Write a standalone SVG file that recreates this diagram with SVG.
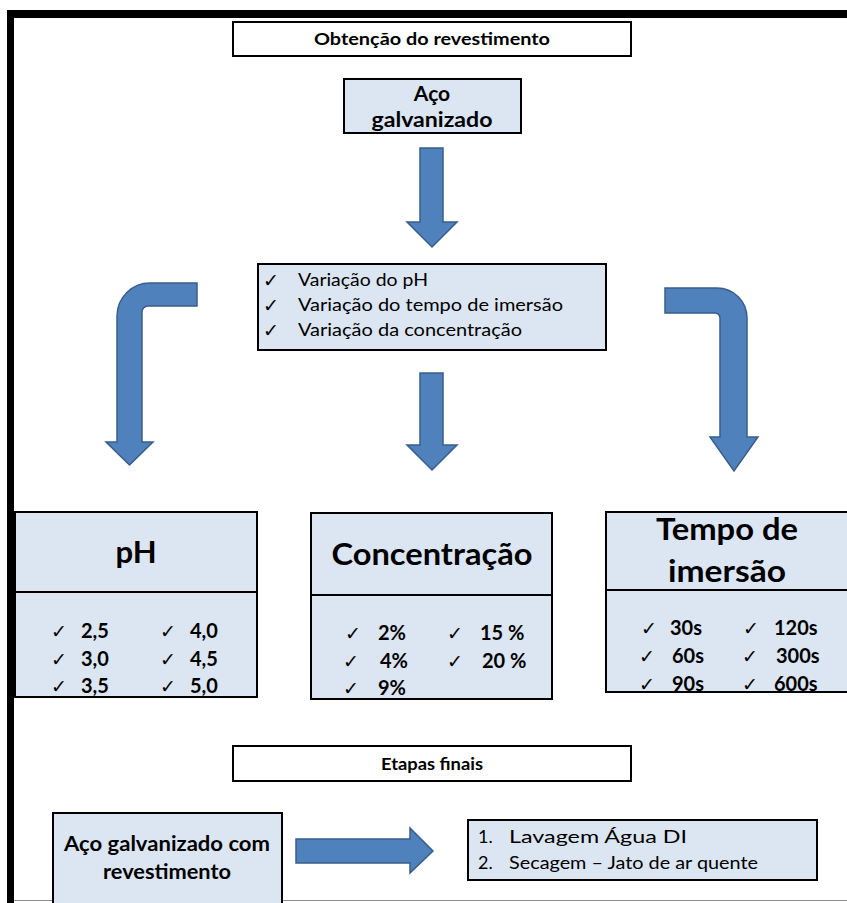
<svg xmlns="http://www.w3.org/2000/svg" width="847" height="903" viewBox="0 0 847 903">
  <style>
    .box { fill: #dce6f2; stroke: #000; stroke-width: 2; }
    .title { fill: #fff; stroke: #000; stroke-width: 2; }
    .arrow { fill: #4f81bd; stroke: #385d8a; stroke-width: 1.5; stroke-linejoin: miter; }
    text { font-family: Lato, "Open Sans", "Liberation Sans", sans-serif; fill: #000; }
    .b { font-weight: bold; }
    .ck { font-family: "DejaVu Sans", sans-serif; font-size: 19px; }
    .t16 { font-size: 17px; }
    .t20 { font-size: 21px; }
    .t17 { font-size: 18px; }
    .t19 { font-size: 20px; }
    .t30 { font-size: 31px; }
    .c { text-anchor: middle; }
  </style>

  <!-- outer frame -->
  <g id="frame">
    <rect x="7" y="10" width="840" height="8" fill="#000"/>
    <rect x="7" y="10" width="7" height="893" fill="#000"/>
    <line x1="14" y1="900.5" x2="847" y2="900.5" stroke="#8c8c8c" stroke-width="1"/>
  </g>

  <!-- connectors -->
  <g id="connectors">
    <path class="arrow" d="M420,148 L443,148 L443,222 L457,222 L432,247 L407,222 L420,222 Z"/>
    <path class="arrow" d="M197,283 L150,283 A33,33 0 0 0 117,316 L117,442 L106,442 L129.5,465 L153,442 L142,442 L142,312 A6,6 0 0 1 148,306 L197,306 Z"/>
    <path class="arrow" d="M420,373 L443,373 L443,445 L457,445 L432,470 L407,445 L420,445 Z"/>
    <path class="arrow" d="M665,288 L717,288 A30,30 0 0 1 747,318 L747,437 L758,437 L734,471 L710,437 L720,437 L720,318 A5,5 0 0 0 715,313 L665,313 Z"/>
    <path class="arrow" d="M296,839 L410,839 L410,828 L433,851 L410,873 L410,863 L296,863 Z"/>
  </g>

  <g id="titulo-obtencao">
    <rect class="title" x="233" y="22" width="398" height="34"/>
    <text class="b t16 c" x="432" y="45" textLength="236" lengthAdjust="spacingAndGlyphs">Obtenção do revestimento</text>
  </g>

  <g id="aco-galvanizado">
    <rect class="box" x="344" y="79" width="177" height="54"/>
    <text class="b t20 c" x="432" y="101">Aço</text>
    <text class="b t20 c" x="432" y="127" textLength="121" lengthAdjust="spacingAndGlyphs">galvanizado</text>
  </g>

  <g id="variacoes">
    <rect class="box" x="258" y="264" width="348" height="86"/>
    <text class="ck" x="263" y="287">✓</text>
    <text class="ck" x="263" y="312">✓</text>
    <text class="ck" x="263" y="337">✓</text>
    <text class="t17" x="298" y="286" textLength="130" lengthAdjust="spacingAndGlyphs">Variação do pH</text>
    <text class="t17" x="298" y="311" textLength="265" lengthAdjust="spacingAndGlyphs">Variação do tempo de imersão</text>
    <text class="t17" x="298" y="336" textLength="224" lengthAdjust="spacingAndGlyphs">Variação da concentração</text>
  </g>

  <g id="ph">
    <rect class="box" x="15" y="512" width="242" height="185"/>
    <line x1="15" y1="592" x2="257" y2="592" stroke="#000" stroke-width="2"/>
    <text class="b t30 c" x="136" y="563">pH</text>
    <text class="ck" x="51" y="638">✓</text>
    <text class="ck" x="51" y="666">✓</text>
    <text class="ck" x="51" y="693">✓</text>
    <text class="ck" x="160" y="638">✓</text>
    <text class="ck" x="160" y="666">✓</text>
    <text class="ck" x="160" y="693">✓</text>
    <text class="b t19" x="81" y="638">2,5</text>
    <text class="b t19" x="81" y="666">3,0</text>
    <text class="b t19" x="81" y="693">3,5</text>
    <text class="b t19" x="190" y="638">4,0</text>
    <text class="b t19" x="190" y="666">4,5</text>
    <text class="b t19" x="190" y="693">5,0</text>
  </g>

  <g id="concentracao">
    <rect class="box" x="311" y="513" width="241" height="186"/>
    <line x1="311" y1="595" x2="552" y2="595" stroke="#000" stroke-width="2"/>
    <text class="b t30 c" x="432" y="565" textLength="201" lengthAdjust="spacingAndGlyphs">Concentração</text>
    <text class="ck" x="345" y="640">✓</text>
    <text class="ck" x="343" y="668">✓</text>
    <text class="ck" x="343" y="695">✓</text>
    <text class="ck" x="447" y="640">✓</text>
    <text class="ck" x="447" y="668">✓</text>
    <text class="b t19" x="378" y="640">2%</text>
    <text class="b t19" x="380" y="668">4%</text>
    <text class="b t19" x="378" y="695">9%</text>
    <text class="b t19" x="480" y="640">15 %</text>
    <text class="b t19" x="482" y="668">20 %</text>
  </g>

  <g id="tempo-imersao">
    <rect class="box" x="606" y="512" width="245" height="180"/>
    <line x1="606" y1="590" x2="847" y2="590" stroke="#000" stroke-width="2"/>
    <text class="b t30 c" x="727" y="540" textLength="142" lengthAdjust="spacingAndGlyphs">Tempo de</text>
    <text class="b t30 c" x="727" y="582" textLength="118" lengthAdjust="spacingAndGlyphs">imersão</text>
    <text class="ck" x="641" y="635">✓</text>
    <text class="ck" x="639" y="663">✓</text>
    <text class="ck" x="639" y="691">✓</text>
    <text class="ck" x="743" y="635">✓</text>
    <text class="ck" x="742" y="663">✓</text>
    <text class="ck" x="742" y="691">✓</text>
    <text class="b t19" x="670" y="635">30s</text>
    <text class="b t19" x="672" y="663">60s</text>
    <text class="b t19" x="672" y="691">90s</text>
    <text class="b t19" x="774" y="635">120s</text>
    <text class="b t19" x="776" y="663">300s</text>
    <text class="b t19" x="774" y="691">600s</text>
  </g>

  <g id="titulo-etapas">
    <rect class="title" x="233" y="746" width="398" height="35"/>
    <text class="b t16 c" x="432" y="770" textLength="102" lengthAdjust="spacingAndGlyphs">Etapas finais</text>
  </g>

  <g id="aco-revestido">
    <rect class="box" x="53" y="813" width="229" height="95"/>
    <text class="b t20 c" x="167" y="851" textLength="206" lengthAdjust="spacingAndGlyphs">Aço galvanizado com</text>
    <text class="b t20 c" x="167" y="879" textLength="128" lengthAdjust="spacingAndGlyphs">revestimento</text>
  </g>

  <g id="etapas">
    <rect class="box" x="468" y="820" width="349" height="60"/>
    <text class="t17" x="478" y="843">1.</text>
    <text class="t17" x="478" y="869">2.</text>
    <text class="t17" x="509" y="843" textLength="178" lengthAdjust="spacingAndGlyphs">Lavagem Água DI</text>
    <text class="t17" x="509" y="869" textLength="249" lengthAdjust="spacingAndGlyphs">Secagem – Jato de ar quente</text>
  </g>
</svg>
